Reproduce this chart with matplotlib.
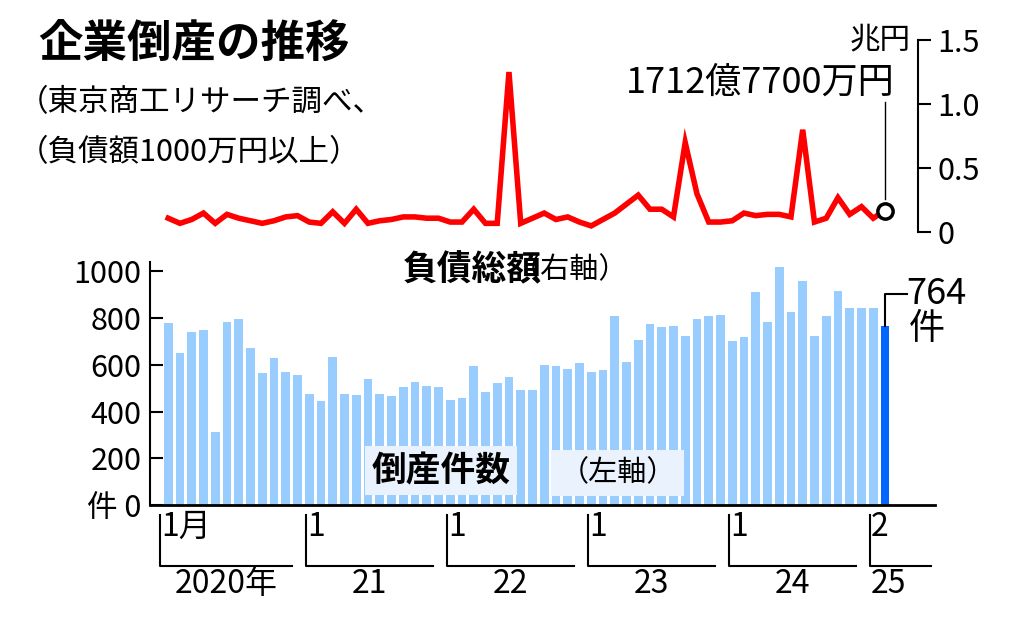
import matplotlib
matplotlib.use("Agg")
import matplotlib.pyplot as plt
import matplotlib.transforms as mtransforms

plt.rcParams["font.family"] = ["Noto Sans CJK JP", "DejaVu Sans"]

# monthly bankruptcies, Jan 2020 - Feb 2025
counts = [777, 652, 742, 747, 313, 785, 794, 670, 567, 627, 571, 558,
          476, 446, 635, 476, 472, 541, 476, 468, 506, 528, 511, 506,
          451, 459, 596, 485, 524, 549, 494, 494, 601, 596, 584, 609,
          571, 579, 811, 614, 708, 773, 760, 764, 725, 798, 811, 815,
          704, 717, 910, 785, 1017, 824, 957, 725, 811, 914, 845, 845,
          845, 764]
# total liabilities, trillion yen
debt = [0.11, 0.07, 0.10, 0.15, 0.07, 0.14, 0.11, 0.09, 0.07, 0.09, 0.12, 0.13,
        0.08, 0.07, 0.16, 0.07, 0.18, 0.07, 0.09, 0.10, 0.12, 0.12, 0.11, 0.11,
        0.08, 0.08, 0.18, 0.07, 0.07, 1.25, 0.07, 0.11, 0.15, 0.10, 0.12, 0.08,
        0.05, 0.10, 0.15, 0.22, 0.29, 0.18, 0.18, 0.12, 0.70, 0.30, 0.08, 0.08,
        0.09, 0.15, 0.13, 0.14, 0.14, 0.12, 0.80, 0.08, 0.11, 0.27, 0.14, 0.20,
        0.11, 0.17]
year_starts = [0, 12, 24, 36, 48, 60]
year_labels = ["2020年", "21", "22", "23", "24", "25"]
month_labels = ["1月", "1", "1", "1", "1", "2"]
count_ticks = [0, 200, 400, 600, 800, 1000]
count_ticklabels = ["件 0", "200", "400", "600", "800", "1000"]
debt_ticks = [0, 0.5, 1.0, 1.5]

W, H = 1024, 623
fig = plt.figure(figsize=(W / 100, H / 100), dpi=100)


def box(l, t, r, b):
    return [l / W, 1 - b / H, (r - l) / W, (b - t) / H]


x0 = -1.55
px_per_month = 11.75
# bar axes
ax = fig.add_axes(box(150, 262, 935, 505))
x_right = x0 + (935 - 150) / px_per_month
ax.set_xlim(x0, x_right)
ax.set_ylim(0, 1040)
n = len(counts)
colors = ["#99ccff"] * (n - 1) + ["#0066ff"]
ax.bar(range(n), counts, width=0.74, color=colors, zorder=2)
for s in ["top", "right"]:
    ax.spines[s].set_visible(False)
ax.spines["left"].set_linewidth(1.5)
ax.spines["bottom"].set_linewidth(2)
ax.set_yticks(count_ticks)
ax.set_yticklabels(count_ticklabels, fontsize=22)
ax.tick_params(axis="y", direction="in", length=9, width=1.5, pad=6)
ax.set_xticks([])

tr = mtransforms.blended_transform_factory(ax.transData, ax.transAxes)
for k, (st, yl, ml) in enumerate(zip(year_starts, year_labels, month_labels)):
    xs = st - 0.7 if k == 0 else st - 0.3
    end = (year_starts[k + 1] - 1.5) if k + 1 < len(year_starts) else x_right - 0.3
    ax.plot([xs, xs, end], [-0.04, -0.25, -0.25], transform=tr, color="black",
            lw=1.5, clip_on=False)
    ax.text(xs + 0.1, -0.025, ml, transform=tr, fontsize=23, va="top", ha="left")
    last = k == len(year_starts) - 1
    lx = xs + 0.1 if last else (xs + end) / 2
    ax.text(lx, -0.26, yl, transform=tr, fontsize=23, va="top",
            ha="left" if last else "center")

ax.text(17.3, 0.07, "倒産件数", transform=tr, fontsize=25, fontweight="bold",
        va="bottom", ha="left", zorder=4,
        bbox=dict(boxstyle="square,pad=0.2", fc="#eaf3fd", ec="none"))
ax.text(33.3, 0.07, "（左軸）", transform=tr, fontsize=21, va="bottom", ha="left",
        zorder=5, bbox=dict(boxstyle="square,pad=0.28", fc="#eaf3fd", ec="none"))

# 764 callout
ax.plot([n - 1, n - 1, n + 0.9], [counts[-1], 905, 905], color="black", lw=1.5,
        clip_on=False)
ax.text(n + 0.8, 905, "764", fontsize=26, va="center", ha="left")
ax.text(n + 2.6, 830, "件", fontsize=26, va="top", ha="center")

# debt line axes
ax2 = fig.add_axes(box(150, 40, 918, 240))
ax2.set_xlim(x0, x0 + (918 - 150) / px_per_month)
ax2.set_ylim(-0.06, 1.5)
ax2.patch.set_alpha(0)
ax2.plot(range(n), debt, color="#ff0000", lw=4, solid_joinstyle="miter")
ax2.plot([n - 1], [debt[-1]], "o", ms=11, mfc="white", mec="black", mew=2.5)
ax2.plot([n - 1, n - 1], [debt[-1] + 0.09, 1.02], color="black", lw=1)
ax2.text(n - 0.2, 1.03, "1712億7700万円", fontsize=26, ha="right", va="bottom")
for s in ["top", "left", "bottom"]:
    ax2.spines[s].set_visible(False)
ax2.spines["right"].set_linewidth(1.5)
ax2.spines["right"].set_bounds(0, 1.5)
ax2.yaxis.tick_right()
ax2.set_yticks(debt_ticks)
ax2.set_yticklabels(["0", "0.5", "1.0", "1.5"], fontsize=22)
ax2.tick_params(axis="y", direction="out", length=9, width=1.5, pad=5)
ax2.set_xticks([])
ax2.text(0.99, 1.5, "兆円", transform=mtransforms.blended_transform_factory(
    ax2.transAxes, ax2.transData), fontsize=22, ha="right", va="center")

fig.text(38 / W, 1 - 45 / H, "企業倒産の推移", fontsize=32, fontweight="bold",
         va="center", ha="left")
fig.text(18 / W, 1 - 103 / H, "（東京商工リサーチ調べ、", fontsize=22, va="center", ha="left")
fig.text(18 / W, 1 - 153 / H, "（負債額1000万円以上）", fontsize=22, va="center", ha="left")
fig.text(403 / W, 1 - 270 / H, "負債総額", fontsize=25, fontweight="bold",
         va="center", ha="left")
fig.text(512 / W, 1 - 270 / H, "（右軸）", fontsize=21, va="center", ha="left")

fig.savefig("out.png", dpi=100)
